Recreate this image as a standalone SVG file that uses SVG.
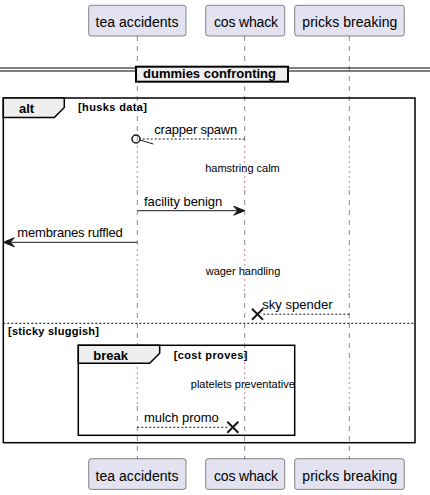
<svg xmlns="http://www.w3.org/2000/svg" width="430" height="495" viewBox="0 0 430 495">
<style>
text{font-family:"Liberation Sans",Arial,sans-serif;fill:#000}
.pbox{fill:#E2E2F0;stroke:#181818;stroke-width:0.5}
.ptxt{font-size:14px;text-anchor:middle}
.life{stroke:#181818;stroke-width:0.5;stroke-dasharray:5,5;fill:none}
.dots{stroke:#A80036;stroke-width:1;stroke-dasharray:1,4;fill:none}
.msg{font-size:13px}
.delay{font-size:11px;text-anchor:middle}
.solid{stroke:#181818;stroke-width:1;fill:none}
.dash{stroke:#181818;stroke-width:1;stroke-dasharray:2,2;fill:none}
.frame{fill:none;stroke:#000;stroke-width:1.5}
.tab{fill:#EEEEEE;stroke:#000;stroke-width:1.5}
.ftitle{font-size:13px;font-weight:bold}
.guard{font-size:11px;font-weight:bold}
.xmark{stroke:#181818;stroke-width:2}
</style>
<rect width="430" height="495" fill="#FFFFFF"/>
<g id="lifelines">
  <path class="life" d="M137.3,36 V146 M137.3,190 V249 M137.3,293 V362 M137.3,406 V459"/>
  <path class="dots" d="M137.3,146.5 V190 M137.3,249.5 V293 M137.3,362.5 V406"/>
  <path class="life" d="M244.7,36 V146 M244.7,190 V249 M244.7,293 V362 M244.7,406 V459"/>
  <path class="dots" d="M244.7,146.5 V190 M244.7,249.5 V293 M244.7,362.5 V406"/>
  <path class="life" d="M349.3,36 V146 M349.3,190 V249 M349.3,293 V362 M349.3,406 V459"/>
  <path class="dots" d="M349.3,146.5 V190 M349.3,249.5 V293 M349.3,362.5 V406"/>
</g>
<g id="divider">
  <line x1="0" y1="68" x2="136" y2="68" stroke="#000" stroke-width="1"/>
  <line x1="0" y1="71" x2="136" y2="71" stroke="#000" stroke-width="1"/>
  <line x1="288" y1="68" x2="430" y2="68" stroke="#000" stroke-width="1"/>
  <line x1="288" y1="71" x2="430" y2="71" stroke="#000" stroke-width="1"/>
  <rect x="136" y="66.7" width="152" height="15" fill="#EEEEEE" stroke="#000" stroke-width="2"/>
  <text class="ftitle" x="143" y="77.5" textLength="133">dummies confronting</text>
</g>
<g id="frame-alt">
  <rect class="frame" x="3.3" y="98" width="411.7" height="344.7"/>
  <path class="tab" d="M3.3,98 H64.3 V107.5 L54.3,117.5 H3.3 Z"/>
  <text class="ftitle" x="19" y="112.5">alt</text>
  <text class="guard" x="78" y="111" textLength="69">[husks data]</text>
  <line x1="3.3" y1="323.3" x2="415" y2="323.3" stroke="#000" stroke-width="1" stroke-dasharray="2,2"/>
  <text class="guard" x="8" y="335" textLength="91">[sticky sluggish]</text>
</g>
<g id="frame-break">
  <rect class="frame" x="78.3" y="345.3" width="216.4" height="90"/>
  <path class="tab" d="M78.3,345.3 H159.7 V353.3 L149.7,363.3 H78.3 Z"/>
  <text class="ftitle" x="93.3" y="360">break</text>
  <text class="guard" x="173.7" y="359" textLength="73.6">[cost proves]</text>
</g>
<g id="connectors">
  <g id="m-crapper">
    <line class="dash" x1="244.7" y1="139" x2="140" y2="139"/>
    <circle cx="136" cy="139" r="4" fill="none" stroke="#181818" stroke-width="1.5"/>
    <line x1="140" y1="140" x2="153.3" y2="144" stroke="#181818" stroke-width="1"/>
    <text class="msg" x="154.3" y="134" textLength="83">crapper spawn</text>
  </g>
  <text class="delay" x="242.5" y="172">hamstring calm</text>
  <g id="m-facility">
    <line class="solid" x1="137.3" y1="210.7" x2="242" y2="210.7"/>
    <polygon points="244.7,210.7 233.7,206.2 237.7,210.7 233.7,215.2" fill="#181818" stroke="#181818" stroke-width="1"/>
    <text class="msg" x="144" y="205.5" textLength="78.3">facility benign</text>
  </g>
  <g id="m-membranes">
    <line class="solid" x1="137.3" y1="242.3" x2="6" y2="242.3"/>
    <polygon points="3.3,242.3 14.3,237.8 10.3,242.3 14.3,246.8" fill="#181818" stroke="#181818" stroke-width="1"/>
    <text class="msg" x="17.3" y="236.8" textLength="105.4">membranes ruffled</text>
  </g>
  <text class="delay" x="243" y="275.3">wager handling</text>
  <g id="m-sky">
    <line class="dash" x1="349.3" y1="314.2" x2="262" y2="314.2"/>
    <path class="xmark" d="M252,308.7 L263,319.7 M252,319.7 L263,308.7"/>
    <text class="msg" x="262.3" y="308.7" textLength="70.4">sky spender</text>
  </g>
  <text class="delay" x="242.8" y="388.3">platelets preventative</text>
  <g id="m-mulch">
    <line class="dash" x1="137.3" y1="427.3" x2="228" y2="427.3"/>
    <path class="xmark" d="M227.3,421.8 L238.3,432.8 M227.3,432.8 L238.3,421.8"/>
    <text class="msg" x="144" y="422.3" textLength="74.7">mulch promo</text>
  </g>
</g>
<g id="p-tea">
  <rect class="pbox" x="88.7" y="5.3" width="97.3" height="30.7" rx="2.5"/>
  <text class="ptxt" x="137" y="27.3" textLength="83">tea accidents</text>
  <rect class="pbox" x="88.7" y="458.7" width="97.3" height="30.7" rx="2.5"/>
  <text class="ptxt" x="137" y="480.7" textLength="83">tea accidents</text>
</g>
<g id="p-cos">
  <rect class="pbox" x="205.7" y="5.3" width="79" height="30.7" rx="2.5"/>
  <text class="ptxt" x="246" y="27.3" textLength="64">cos whack</text>
  <rect class="pbox" x="205.7" y="458.7" width="79" height="30.7" rx="2.5"/>
  <text class="ptxt" x="246" y="480.7" textLength="64">cos whack</text>
</g>
<g id="p-pricks">
  <rect class="pbox" x="294.7" y="5.3" width="109.6" height="30.7" rx="2.5"/>
  <text class="ptxt" x="349.8" y="27.3" textLength="95">pricks breaking</text>
  <rect class="pbox" x="294.7" y="458.7" width="109.6" height="30.7" rx="2.5"/>
  <text class="ptxt" x="349.8" y="480.7" textLength="95">pricks breaking</text>
</g>
</svg>
